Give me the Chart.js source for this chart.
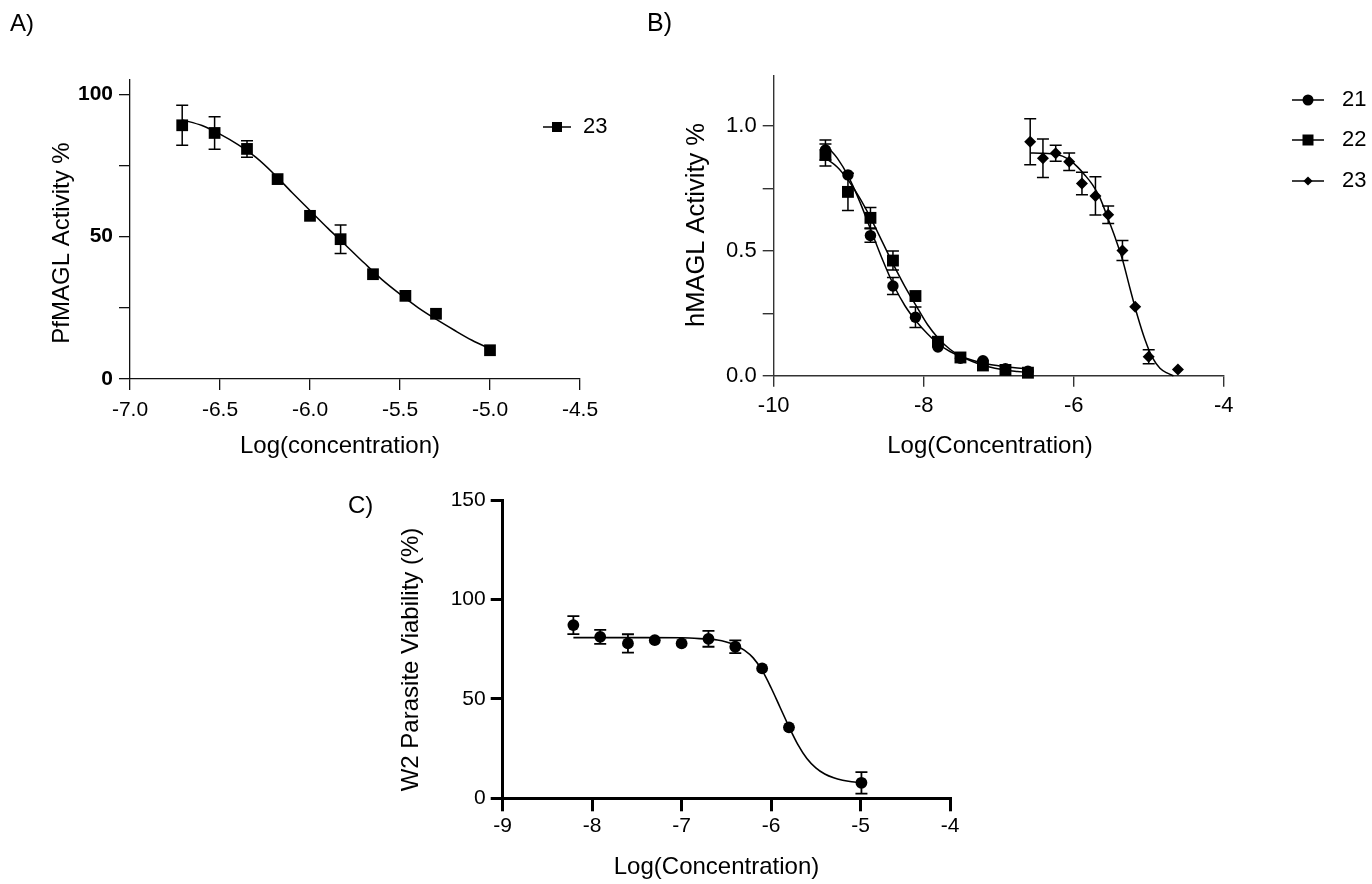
<!DOCTYPE html>
<html>
<head>
<meta charset="utf-8">
<script src="https://cdn.jsdelivr.net/npm/chart.js@4.4.0/dist/chart.umd.min.js"></script>
<style>
  html, body { margin: 0; padding: 0; background: #fff; }
  body { width: 1372px; height: 884px; position: relative; overflow: hidden; }
  canvas { position: absolute; }
</style>
</head>
<body>
<canvas id="cA" width="640" height="470" style="left:0px;top:0px;width:640px;height:470px"></canvas>
<canvas id="cB" width="732" height="470" style="left:640px;top:0px;width:732px;height:470px"></canvas>
<canvas id="cC" width="670" height="414" style="left:330px;top:470px;width:670px;height:414px"></canvas>
<script>
// ---------- Panel A data (PfMAGL, compound 23) ----------
const logConcA = [-6.71, -6.53, -6.35, -6.18, -6.00, -5.83, -5.65, -5.47, -5.30, -5.00];
const pfmaglActivity23 = [89.1, 86.4, 80.8, 70.2, 57.3, 49.1, 36.8, 29.2, 22.9, 10.1];
const pfmaglError23 = [7.0, 5.7, 2.9, 0, 0, 5.0, 0, 0, 0, 0];
const fitLogA = [-6.71, -6.6, -6.5, -6.4, -6.3, -6.2, -6.1, -6.0, -5.9, -5.8, -5.7, -5.6, -5.5, -5.4, -5.3, -5.2, -5.1, -5.0];
const fitActivityA = [91.0, 89.0, 86.0, 82.3, 77.8, 72.0, 65.5, 59.2, 52.9, 46.9, 40.8, 34.9, 29.8, 25.1, 21.0, 17.2, 13.6, 10.6];
const xTicksA = [-7.0, -6.5, -6.0, -5.5, -5.0, -4.5];
const yTicksA = [0, 25, 50, 75, 100];
const yLabelsA = [0, 50, 100];
const xTitleA = 'Log(concentration)';
const yTitleA = 'PfMAGL Activity %';

// ---------- Panel B data (hMAGL, compounds 21, 22, 23) ----------
const logConcB = [-9.31, -9.01, -8.71, -8.41, -8.11, -7.81, -7.51, -7.21, -6.91, -6.61];
const hmagl21 = [0.904, 0.804, 0.561, 0.359, 0.234, 0.115, 0.070, 0.060, 0.028, 0.018];
const hmaglErr21 = [0.040, 0, 0.027, 0.034, 0.041, 0, 0, 0, 0, 0];
const hmagl22 = [0.884, 0.736, 0.632, 0.461, 0.319, 0.136, 0.073, 0.041, 0.023, 0.012];
const hmaglErr22 = [0.044, 0.075, 0.041, 0.038, 0, 0, 0, 0, 0, 0];
const logConcB23 = [-6.58, -6.41, -6.24, -6.06, -5.89, -5.71, -5.54, -5.35, -5.18, -5.00, -4.61];
const hmagl23 = [0.937, 0.871, 0.891, 0.857, 0.770, 0.720, 0.644, 0.501, 0.276, 0.076, 0.025];
const hmaglErr23 = [0.092, 0.077, 0.032, 0.035, 0.045, 0.077, 0.035, 0.040, 0, 0.028, 0];
const fitLogB = [-9.31, -9.15, -9.0, -8.85, -8.7, -8.55, -8.4, -8.25, -8.1, -7.95, -7.8, -7.65, -7.5, -7.35, -7.2, -7.05, -6.9, -6.75, -6.61];
const fitB21 = [0.925, 0.870, 0.795, 0.695, 0.580, 0.465, 0.362, 0.280, 0.218, 0.168, 0.126, 0.097, 0.077, 0.062, 0.050, 0.042, 0.036, 0.031, 0.028];
const fitB22 = [0.872, 0.835, 0.780, 0.710, 0.627, 0.535, 0.443, 0.357, 0.280, 0.205, 0.148, 0.106, 0.078, 0.057, 0.041, 0.030, 0.022, 0.017, 0.013];
const fitLogB23 = [-6.58, -6.45, -6.3, -6.15, -6.05, -5.95, -5.85, -5.75, -5.65, -5.55, -5.45, -5.35, -5.25, -5.15, -5.05, -4.95, -4.85, -4.75, -4.67];
const fitB23 = [0.892, 0.891, 0.889, 0.879, 0.862, 0.836, 0.803, 0.765, 0.712, 0.635, 0.555, 0.465, 0.350, 0.240, 0.145, 0.072, 0.030, 0.010, 0.0];
const xTicksB = [-10, -8, -6, -4];
const yTicksB = [0, 0.25, 0.5, 0.75, 1.0];
const yLabelsB = [0, 0.5, 1.0];
const legendLabelsB = ['21', '22', '23'];
const xTitleB = 'Log(Concentration)';
const yTitleB = 'hMAGL Activity %';

// ---------- Panel C data (W2 parasite viability) ----------
const logConcC = [-8.21, -7.91, -7.60, -7.30, -7.00, -6.70, -6.40, -6.10, -5.80, -4.99];
const viabilityW2 = [87.1, 81.2, 77.9, 79.5, 77.9, 80.2, 76.2, 65.3, 35.7, 7.8];
const viabilityErrW2 = [4.5, 3.5, 4.6, 0, 0, 4.0, 3.2, 0, 0, 5.4];
const fitLogC = [-8.21, -7.8, -7.4, -7.0, -6.8, -6.6, -6.5, -6.4, -6.3, -6.2, -6.1, -6.0, -5.9, -5.8, -5.7, -5.6, -5.5, -5.4, -5.3, -5.2, -5.1, -4.99];
const fitViabilityC = [80.8, 80.8, 80.8, 80.7, 80.3, 79.6, 78.6, 77.0, 74.5, 70.6, 64.3, 55.6, 45.8, 36.0, 27.0, 20.0, 15.3, 12.2, 10.3, 9.1, 8.3, 7.8];
const xTicksC = [-9, -8, -7, -6, -5, -4];
const yTicksC = [0, 50, 100, 150];
const xTitleC = 'Log(Concentration)';
const yTitleC = 'W2 Parasite Viability (%)';

// ---------- helpers ----------
const FONT = "'Liberation Sans', Arial, Helvetica, sans-serif";
Chart.defaults.font.family = FONT;
Chart.defaults.color = '#000';

const pts = (xs, ys) => xs.map((x, i) => ({x: x, y: ys[i]}));

function drawMarker(ctx, style, x, y, r) {
  ctx.beginPath();
  if (style === 'circle') {
    ctx.arc(x, y, r, 0, Math.PI * 2);
  } else if (style === 'rect') {
    ctx.rect(x - r, y - r, 2 * r, 2 * r);
  } else {
    ctx.moveTo(x - r, y); ctx.lineTo(x, y - r); ctx.lineTo(x + r, y); ctx.lineTo(x, y + r); ctx.closePath();
  }
  ctx.fill();
}

function drawText(ctx, text, x, y, size, rot, weight) {
  ctx.save();
  ctx.translate(x, y);
  if (rot) ctx.rotate(rot);
  ctx.font = (weight ? weight + ' ' : '') + size + 'px ' + FONT;
  ctx.textAlign = 'center';
  ctx.textBaseline = 'middle';
  ctx.fillStyle = '#000';
  ctx.fillText(text, 0, 0);
  ctx.restore();
}

const errorBarsPlugin = {
  id: 'errorBars',
  beforeDatasetsDraw(chart) {
    const ctx = chart.ctx, xs = chart.scales.x, ys = chart.scales.y;
    chart.data.datasets.forEach(ds => {
      if (!ds.errors) return;
      ctx.save();
      ctx.strokeStyle = '#000';
      ctx.lineWidth = ds.errWidth || 1.5;
      ds.data.forEach((p, i) => {
        const e = ds.errors[i];
        if (!e) return;
        const x = xs.getPixelForValue(p.x);
        const y1 = ys.getPixelForValue(p.y + e);
        const y2 = ys.getPixelForValue(p.y - e);
        const cw = ds.capHalf || 6;
        ctx.beginPath();
        ctx.moveTo(x, y1); ctx.lineTo(x, y2);
        ctx.moveTo(x - cw, y1); ctx.lineTo(x + cw, y1);
        ctx.moveTo(x - cw, y2); ctx.lineTo(x + cw, y2);
        ctx.stroke();
      });
      ctx.restore();
    });
  }
};

function overlayPlugin(o) {
  return {
    id: 'overlay',
    afterDraw(chart) {
      const ctx = chart.ctx;
      ctx.save();
      ctx.fillStyle = '#000';
      ctx.textBaseline = 'middle';
      ctx.textAlign = 'left';
      ctx.font = o.labelSize + 'px ' + FONT;
      ctx.fillText(o.label, o.lx, o.ly);
      o.legend.forEach(it => {
        ctx.strokeStyle = '#000';
        ctx.lineWidth = 1.5;
        ctx.beginPath();
        ctx.moveTo(it.x0, it.y); ctx.lineTo(it.x1, it.y);
        ctx.stroke();
        drawMarker(ctx, it.style, (it.x0 + it.x1) / 2, it.y, it.r);
        ctx.font = '22px ' + FONT;
        ctx.textAlign = 'left';
        ctx.textBaseline = 'middle';
        ctx.fillText(it.label, it.tx, it.y);
      });
      ctx.restore();
      o.titles.forEach(t => drawText(ctx, t.text, t.x, t.y, t.size, t.rot));
    }
  };
}

function curveDs(label, xs, ys, width) {
  return { label: label, data: pts(xs, ys), showLine: true, borderColor: '#000', borderWidth: width || 1.5,
           pointRadius: 0, pointHoverRadius: 0, pointHitRadius: 0, cubicInterpolationMode: 'monotone',
           fill: false, clip: false, order: 2 };
}
function pointDs(label, xs, ys, errs, style, r, errWidth) {
  return { label: label, data: pts(xs, ys), errors: errs, errWidth: errWidth || 1.5, capHalf: 6, showLine: false,
           pointStyle: style, pointRadius: r, pointHoverRadius: r, pointBackgroundColor: '#000',
           pointBorderColor: '#000', pointBorderWidth: 0, clip: false, order: 1 };
}

function axis(o) {
  return {
    type: 'linear', min: o.min, max: o.max,
    afterBuildTicks: s => { s.ticks = o.ticks.map(v => ({value: v})); },
    afterFit: s => { if (o.w !== undefined) s.width = o.w; if (o.h !== undefined) s.height = o.h; },
    ticks: { callback: o.fmt, autoSkip: false, maxRotation: 0, minRotation: 0, padding: o.pad,
             font: { size: o.fs || 21, weight: o.bold ? 'bold' : 'normal' }, color: '#000' },
    grid: { display: true, drawOnChartArea: false, drawTicks: true, tickLength: o.tl, tickWidth: o.lw,
            color: o.color, tickColor: o.color, lineWidth: o.lw },
    border: { display: true, color: o.color, width: o.lw },
    title: { display: false, text: o.title }
  };
}

function baseOptions(padding, xAxis, yAxis) {
  return {
    responsive: false, animation: false, devicePixelRatio: 1,
    layout: { padding: padding },
    plugins: { legend: { display: false }, tooltip: { enabled: false } },
    events: [],
    scales: { x: xAxis, y: yAxis }
  };
}

const ROT = -Math.PI / 2;

// ---------- Panel A ----------
new Chart(document.getElementById('cA'), {
  type: 'scatter',
  data: { datasets: [
    pointDs('23', logConcA, pfmaglActivity23, pfmaglError23, 'rect', 8.3),
    curveDs('23 fit', fitLogA, fitActivityA)
  ]},
  options: baseOptions({ left: 47.6, top: 80, right: 60, bottom: 5.6 },
    axis({ min: -7, max: -4.5, ticks: xTicksA, fmt: v => v.toFixed(1), pad: 7.4, tl: 11, lw: 1.3,
           color: '#111', h: 85.4, title: xTitleA }),
    axis({ min: 0, max: 105, ticks: yTicksA, fmt: v => yLabelsA.includes(v) ? String(v) : '', pad: 6, tl: 11,
           lw: 1.3, color: '#111', w: 82.4, bold: true, title: yTitleA })),
  plugins: [errorBarsPlugin, overlayPlugin({
    label: 'A)', lx: 10, ly: 24, labelSize: 24,
    legend: [ { x0: 543, x1: 571, y: 127, style: 'rect', r: 5, label: '23', tx: 583 } ],
    titles: [
      { text: xTitleA, x: 340, y: 446, size: 24, rot: 0 },
      { text: yTitleA, x: 62, y: 243, size: 24, rot: ROT }
    ]
  })]
});

// ---------- Panel B ----------
new Chart(document.getElementById('cB'), {
  type: 'scatter',
  data: { datasets: [
    pointDs('21', logConcB, hmagl21, hmaglErr21, 'circle', 5.7),
    pointDs('22', logConcB, hmagl22, hmaglErr22, 'rect', 8.4),
    pointDs('23', logConcB23, hmagl23, hmaglErr23, 'rectRot', 6),
    curveDs('21 fit', fitLogB, fitB21),
    curveDs('22 fit', fitLogB, fitB22),
    curveDs('23 fit', fitLogB23, fitB23)
  ]},
  options: baseOptions({ left: 42.6, top: 76, right: 148.3, bottom: 5.6 },
    axis({ min: -10, max: -4, ticks: xTicksB, fmt: v => String(v), pad: 6.1, tl: 11, lw: 1.4, fs: 22,
           color: '#333', h: 88.7, title: xTitleB }),
    axis({ min: 0, max: 1.2, ticks: yTicksB, fmt: v => yLabelsB.includes(v) ? v.toFixed(1) : '', pad: 6, tl: 11,
           lw: 1.4, fs: 22, color: '#333', w: 91.1, title: yTitleB })),
  plugins: [errorBarsPlugin, overlayPlugin({
    label: 'B)', lx: 7, ly: 24, labelSize: 25,
    legend: [
      { x0: 652, x1: 684, y: 100, style: 'circle', r: 5.5, label: legendLabelsB[0], tx: 702 },
      { x0: 652, x1: 684, y: 140, style: 'rect', r: 5.5, label: legendLabelsB[1], tx: 702 },
      { x0: 652, x1: 684, y: 181, style: 'diamond', r: 4.6, label: legendLabelsB[2], tx: 702 }
    ],
    titles: [
      { text: xTitleB, x: 350, y: 446, size: 24, rot: 0 },
      { text: yTitleB, x: 57, y: 225, size: 25.5, rot: ROT }
    ]
  })]
});

// ---------- Panel C ----------
new Chart(document.getElementById('cC'), {
  type: 'scatter',
  data: { datasets: [
    pointDs('W2', logConcC, viabilityW2, viabilityErrW2, 'circle', 5.9, 1.8),
    curveDs('W2 fit', fitLogC, fitViabilityC, 1.6)
  ]},
  options: baseOptions({ left: 66.6, top: 30, right: 50, bottom: 2.6 },
    axis({ min: -9, max: -4, ticks: xTicksC, fmt: v => String(v), pad: 2.1, tl: 13, lw: 3,
           color: '#000', h: 83.1, title: xTitleC }),
    axis({ min: 0, max: 150, ticks: yTicksC, fmt: v => String(v), pad: 5, tl: 12,
           lw: 3, color: '#000', w: 106.1, title: yTitleC })),
  plugins: [errorBarsPlugin, overlayPlugin({
    label: 'C)', lx: 18, ly: 36, labelSize: 24,
    legend: [],
    titles: [
      { text: xTitleC, x: 386.5, y: 397, size: 24, rot: 0 },
      { text: yTitleC, x: 81, y: 189.5, size: 24, rot: ROT }
    ]
  })]
});
</script>
</body>
</html>
